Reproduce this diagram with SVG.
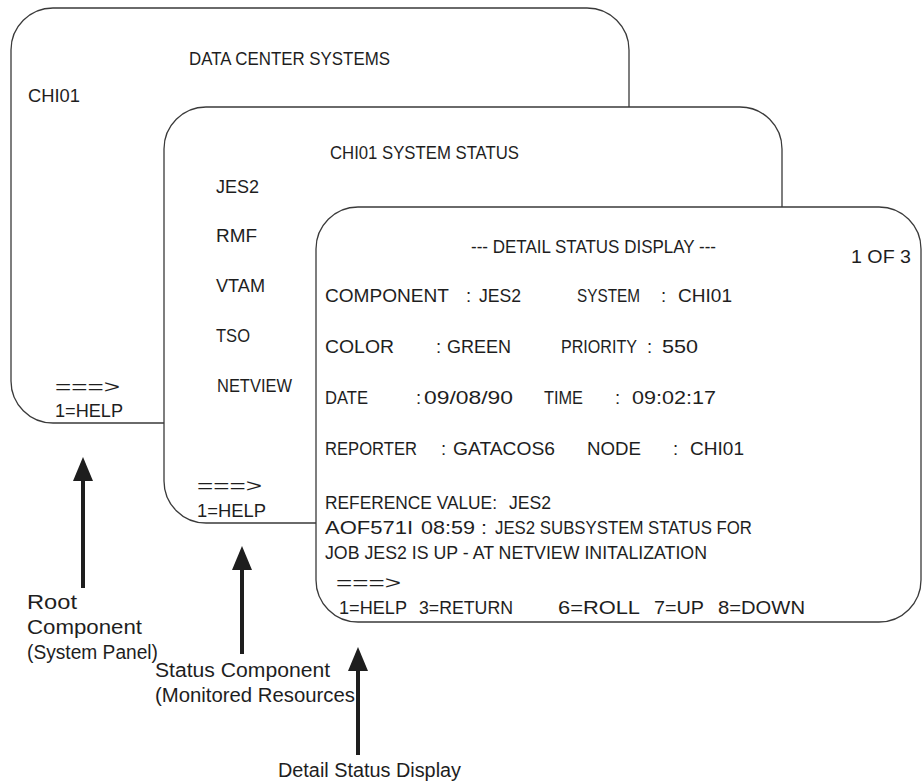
<svg xmlns="http://www.w3.org/2000/svg" width="924" height="782" viewBox="0 0 924 782">
<style>
.panel{fill:#fff;stroke:#3a3a3a;stroke-width:1.3}
.t{font-family:"Liberation Sans",Arial,sans-serif;font-size:18.5px;fill:#1e1e1e}
.lbl{font-family:"Liberation Sans",Arial,sans-serif;font-size:20px;fill:#1e1e1e}
.arrow{stroke:#1e1e1e;stroke-width:4;fill:none}
</style>
<defs>
<marker id="ah" viewBox="0 0 24 20" markerWidth="24" markerHeight="20" refX="0" refY="10" orient="auto" markerUnits="userSpaceOnUse">
<path d="M0,0 L24,10 L0,20 z" fill="#1e1e1e"/>
</marker>
</defs>

<g id="root-panel">
<rect class="panel" x="11" y="8" width="618" height="415" rx="42" ry="42"/>
<text class="t" x="189" y="65" textLength="201" lengthAdjust="spacingAndGlyphs">DATA CENTER SYSTEMS</text>
<text class="t" x="28" y="102" textLength="52" lengthAdjust="spacingAndGlyphs">CHI01</text>
<text class="t" x="55" y="393" textLength="65" lengthAdjust="spacingAndGlyphs">===&gt;</text>
<text class="t" x="55" y="417" textLength="68" lengthAdjust="spacingAndGlyphs">1=HELP</text>
</g>

<g id="status-panel">
<rect class="panel" x="164" y="107" width="618" height="416" rx="42" ry="42"/>
<text class="t" x="330" y="159" textLength="189" lengthAdjust="spacingAndGlyphs">CHI01 SYSTEM STATUS</text>
<text class="t" x="216" y="193" textLength="43" lengthAdjust="spacingAndGlyphs">JES2</text>
<text class="t" x="216" y="242" textLength="41" lengthAdjust="spacingAndGlyphs">RMF</text>
<text class="t" x="216" y="292" textLength="49" lengthAdjust="spacingAndGlyphs">VTAM</text>
<text class="t" x="216" y="342" textLength="34" lengthAdjust="spacingAndGlyphs">TSO</text>
<text class="t" x="217" y="392" textLength="75" lengthAdjust="spacingAndGlyphs">NETVIEW</text>
<text class="t" x="197" y="492" textLength="65" lengthAdjust="spacingAndGlyphs">===&gt;</text>
<text class="t" x="197" y="517" textLength="69" lengthAdjust="spacingAndGlyphs">1=HELP</text>
</g>

<g id="detail-panel">
<rect class="panel" x="316" y="207" width="605" height="415" rx="42" ry="42"/>
<text class="t" x="471" y="253" textLength="245" lengthAdjust="spacingAndGlyphs">--- DETAIL STATUS DISPLAY ---</text>
<text class="t" x="851" y="263" textLength="60" lengthAdjust="spacingAndGlyphs">1 OF 3</text>
<text class="t" y="302"><tspan x="325" textLength="124" lengthAdjust="spacingAndGlyphs">COMPONENT</tspan><tspan x="466">:</tspan><tspan x="479" textLength="42" lengthAdjust="spacingAndGlyphs">JES2</tspan><tspan x="577" textLength="63" lengthAdjust="spacingAndGlyphs">SYSTEM</tspan><tspan x="661">:</tspan><tspan x="678" textLength="54" lengthAdjust="spacingAndGlyphs">CHI01</tspan></text>
<text class="t" y="353"><tspan x="325" textLength="69" lengthAdjust="spacingAndGlyphs">COLOR</tspan><tspan x="436">:</tspan><tspan x="447" textLength="64" lengthAdjust="spacingAndGlyphs">GREEN</tspan><tspan x="561" textLength="76" lengthAdjust="spacingAndGlyphs">PRIORITY</tspan><tspan x="647">:</tspan><tspan x="662" textLength="36" lengthAdjust="spacingAndGlyphs">550</tspan></text>
<text class="t" y="404"><tspan x="325" textLength="43" lengthAdjust="spacingAndGlyphs">DATE</tspan><tspan x="416">:</tspan><tspan x="424" textLength="89" lengthAdjust="spacingAndGlyphs">09/08/90</tspan><tspan x="544" textLength="39" lengthAdjust="spacingAndGlyphs">TIME</tspan><tspan x="615">:</tspan><tspan x="632" textLength="84" lengthAdjust="spacingAndGlyphs">09:02:17</tspan></text>
<text class="t" y="455"><tspan x="325" textLength="92" lengthAdjust="spacingAndGlyphs">REPORTER</tspan><tspan x="441">:</tspan><tspan x="453" textLength="102" lengthAdjust="spacingAndGlyphs">GATACOS6</tspan><tspan x="587" textLength="54" lengthAdjust="spacingAndGlyphs">NODE</tspan><tspan x="673">:</tspan><tspan x="690" textLength="54" lengthAdjust="spacingAndGlyphs">CHI01</tspan></text>
<text class="t" y="509"><tspan x="325" textLength="172" lengthAdjust="spacingAndGlyphs">REFERENCE VALUE:</tspan><tspan x="509" textLength="42" lengthAdjust="spacingAndGlyphs">JES2</tspan></text>
<text class="t" y="534"><tspan x="325" textLength="88" lengthAdjust="spacingAndGlyphs">AOF571I</tspan><tspan x="421" textLength="66" lengthAdjust="spacingAndGlyphs">08:59 :</tspan><tspan x="495" textLength="257" lengthAdjust="spacingAndGlyphs">JES2 SUBSYSTEM STATUS FOR</tspan></text>
<text class="t" x="325" y="559" textLength="382" lengthAdjust="spacingAndGlyphs">JOB JES2 IS UP - AT NETVIEW INITALIZATION</text>
<text class="t" x="336" y="589" textLength="65" lengthAdjust="spacingAndGlyphs">===&gt;</text>
<text class="t" y="614"><tspan x="339" textLength="68" lengthAdjust="spacingAndGlyphs">1=HELP</tspan><tspan x="419" textLength="94" lengthAdjust="spacingAndGlyphs">3=RETURN</tspan><tspan x="558" textLength="82" lengthAdjust="spacingAndGlyphs">6=ROLL</tspan><tspan x="654" textLength="50" lengthAdjust="spacingAndGlyphs">7=UP</tspan><tspan x="718" textLength="87" lengthAdjust="spacingAndGlyphs">8=DOWN</tspan></text>
</g>

<g id="connectors">
<line class="arrow" x1="83" y1="588" x2="83" y2="481" marker-end="url(#ah)"/>
<line class="arrow" x1="242" y1="654" x2="242" y2="570" marker-end="url(#ah)"/>
<line class="arrow" x1="358" y1="755" x2="358" y2="671" marker-end="url(#ah)"/>
</g>

<g id="labels">
<text class="lbl" x="27" y="609" textLength="50" lengthAdjust="spacingAndGlyphs">Root</text>
<text class="lbl" x="27" y="634" textLength="115" lengthAdjust="spacingAndGlyphs">Component</text>
<text class="lbl" x="27" y="659" textLength="131" lengthAdjust="spacingAndGlyphs">(System Panel)</text>
<text class="lbl" x="155" y="677" textLength="175" lengthAdjust="spacingAndGlyphs">Status Component</text>
<text class="lbl" x="155" y="702" textLength="200" lengthAdjust="spacingAndGlyphs">(Monitored Resources</text>
<text class="lbl" x="278" y="777" textLength="183" lengthAdjust="spacingAndGlyphs">Detail Status Display</text>
</g>
</svg>
